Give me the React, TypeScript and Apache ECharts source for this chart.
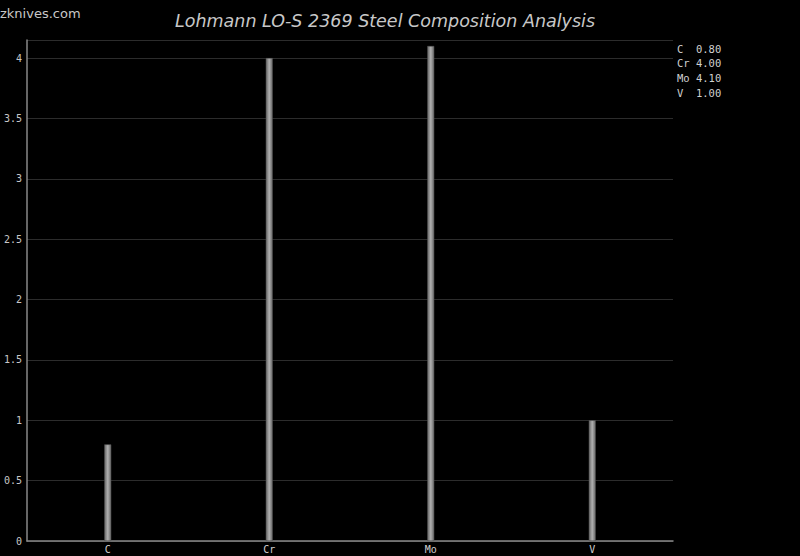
import React, { useEffect, useRef } from "react";
import * as echarts from "echarts";

const categories = ["C", "Cr", "Mo", "V"];
const values = [0.8, 4.0, 4.1, 1.0];
const legendLines = ["C  0.80", "Cr 4.00", "Mo 4.10", "V  1.00"];
const titleText = "Lohmann LO-S 2369 Steel Composition Analysis";
const siteText = "zknives.com";

export default function App() {
  const ref = useRef<HTMLDivElement>(null);
  useEffect(() => {
    document.body.style.margin = "0";
    document.body.style.background = "#000";
    const chart = echarts.init(ref.current!, null, { renderer: "svg" });
    const mono = "DejaVu Sans Mono";
    chart.setOption({
      animation: false,
      backgroundColor: "#000",
      title: {
        text: titleText,
        left: 170,
        top: 7,
        textStyle: {
          color: "#c8c8c8",
          fontStyle: "italic",
          fontWeight: "normal",
          fontSize: 17.5,
          fontFamily: "DejaVu Sans",
        },
      },
      graphic: [
        {
          type: "text",
          left: 0,
          top: 7,
          style: {
            text: siteText,
            fill: "#c8c8c8",
            font: "13px 'DejaVu Sans'",
          },
        },
        ...legendLines.map((t, i) => ({
          type: "text",
          left: 677,
          top: 43 + i * 14.7,
          style: { text: t, fill: "#d0d0d0", font: `10.5px '${mono}'` },
        })),
      ],
      grid: { left: 27, right: 127, top: 40, bottom: 15, containLabel: false },
      xAxis: {
        type: "category",
        data: categories,
        axisLine: { lineStyle: { color: "#888", width: 1.5 } },
        axisTick: { show: false },
        axisLabel: { color: "#d0d0d0", fontFamily: mono, fontSize: 10, margin: 3 },
      },
      yAxis: {
        type: "value",
        min: 0,
        max: 4.15,
        interval: 0.5,
        axisLine: { show: true, lineStyle: { color: "#888", width: 1.5 } },
        axisTick: { show: false },
        axisLabel: {
          color: "#c8c8c8",
          fontFamily: mono,
          fontSize: 10,
          margin: 5,
          showMaxLabel: false,
        },
        splitLine: { lineStyle: { color: "#2c2c2c", width: 1 } },
      },
      series: [
        {
          type: "bar",
          data: values,
          barWidth: 7,
          itemStyle: {
            color: new echarts.graphic.LinearGradient(0, 0, 1, 0, [
              { offset: 0, color: "#666" },
              { offset: 0.5, color: "#b0b0b0" },
              { offset: 1, color: "#666" },
            ]),
            borderColor: "#555",
            borderWidth: 0.5,
          },
        },
      ],
    });
    return () => chart.dispose();
  }, []);
  return <div ref={ref} style={{ width: 800, height: 556 }} />;
}
